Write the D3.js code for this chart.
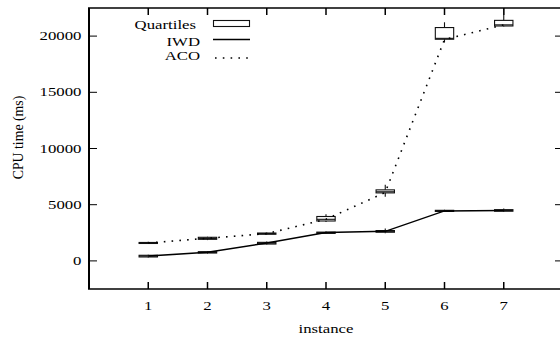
<!DOCTYPE html>
<html lang="en">
<head>
    <meta charset="UTF-8">
    <title>CPU time per instance</title>
    <script src="https://d3js.org/d3.v7.min.js"></script>
    <style>
        body { margin: 0; background: #fff; }
        .line { fill: none; stroke: #000; }
        .box { fill: none; stroke: #111; stroke-width: 1.1px; }
    </style>
</head>
<body>
    <div id="chart"></div>

    <script>
        // values
        const instances = [1, 2, 3, 4, 5, 6, 7];
        const iwdLine = [430, 760, 1590, 2520, 2630, 4450, 4480];
        const acoLine = [1600, 2010, 2430, 3700, 6090, 19700, 21000];
        // [min, q1, median, q3, max]
        const iwdBox = [[300, 350, 430, 500, 550], [650, 700, 760, 820, 880], [1450, 1500, 1580, 1650, 1720],
            [2400, 2450, 2500, 2560, 2620], [2450, 2550, 2630, 2700, 2880], [4350, 4400, 4450, 4500, 4550],
            [4350, 4420, 4480, 4560, 4660]];
        const acoBox = [[1500, 1550, 1600, 1640, 1700], [1850, 1920, 2000, 2100, 2150], [2320, 2370, 2430, 2480, 2530],
            [3450, 3550, 3700, 3950, 4150], [5700, 6050, 6150, 6320, 6770], [19430, 19720, 19800, 20760, 21230],
            [20850, 20900, 21000, 21400, 23000]];
        const yTicks = [0, 5000, 10000, 15000, 20000];

        const width = 560, height = 342;
        const SX = 1.42; // the picture is stretched sideways
        const x = d3.scaleLinear().domain([0, 8]).range([89, 563]);
        const y = d3.scaleLinear().domain([-2500, 22500]).range([289, 8]);

        const svg = d3.select("#chart").append("svg")
            .attr("width", width).attr("height", height);

        function label(px, py, s, anchor, rot, size) {
            return svg.append("text")
                .attr("transform", "translate(" + px + "," + py + ")" + (rot ? " rotate(" + rot + ")" : " scale(" + SX + ",1)"))
                .attr("text-anchor", anchor)
                .style("font-family", "'Liberation Serif'")
                .style("font-size", (size || 11.8) + "px")
                .style("fill", "#000")
                .text(s);
        }

        svg.append("clipPath").attr("id", "plot")
            .append("rect").attr("x", 89).attr("y", 8).attr("width", 474).attr("height", 281);

        // ticks, inward on all four sides
        instances.forEach(function(d) {
            svg.append("line").attr("class", "line").attr("stroke-width", 1.5)
                .attr("x1", x(d)).attr("x2", x(d)).attr("y1", 289).attr("y2", 282);
            svg.append("line").attr("class", "line").attr("stroke-width", 1.5)
                .attr("x1", x(d)).attr("x2", x(d)).attr("y1", 8).attr("y2", 15);
            label(x(d), 310, d, "middle");
        });
        yTicks.forEach(function(d) {
            svg.append("line").attr("class", "line").attr("stroke-width", 1)
                .attr("x1", 89).attr("x2", 97).attr("y1", y(d)).attr("y2", y(d));
            svg.append("line").attr("class", "line").attr("stroke-width", 1)
                .attr("x1", 555).attr("x2", 563).attr("y1", y(d)).attr("y2", y(d));
            label(81.5, y(d) + 4, d, "end");
        });

        const plot = svg.append("g").attr("clip-path", "url(#plot)");

        // quartile boxes
        function boxes(data) {
            const hw = 0.155;
            data.forEach(function(b, i) {
                const cx = x(instances[i]);
                const g = plot.append("g");
                g.append("line").attr("class", "box").attr("x1", cx).attr("x2", cx).attr("y1", y(b[0])).attr("y2", y(b[1]));
                g.append("line").attr("class", "box").attr("x1", cx).attr("x2", cx).attr("y1", y(b[3])).attr("y2", y(b[4]));
                g.append("rect").attr("class", "box")
                    .attr("x", x(instances[i] - hw)).attr("width", x(instances[i] + hw) - x(instances[i] - hw))
                    .attr("y", y(b[3])).attr("height", Math.max(1, y(b[1]) - y(b[3])));
                g.append("line").attr("class", "box")
                    .attr("x1", x(instances[i] - hw)).attr("x2", x(instances[i] + hw)).attr("y1", y(b[2])).attr("y2", y(b[2]));
            });
        }
        boxes(iwdBox);
        boxes(acoBox);

        const line = d3.line().x(function(d, i) { return x(instances[i]); }).y(function(d) { return y(d); });
        plot.append("path").datum(iwdLine).attr("class", "line").attr("stroke-width", 1.5).attr("d", line);
        plot.append("path").datum(acoLine).attr("class", "line").attr("stroke-width", 1.6)
            .attr("stroke-dasharray", "1.6,6.2").attr("d", line);

        // border
        svg.append("line").attr("class", "line").attr("stroke-width", 2).attr("x1", 89).attr("x2", 89).attr("y1", 8).attr("y2", 289);
        svg.append("line").attr("class", "line").attr("stroke-width", 2).attr("x1", 563).attr("x2", 563).attr("y1", 8).attr("y2", 289);
        svg.append("line").attr("class", "line").attr("stroke-width", 1.4).attr("x1", 88).attr("x2", 564).attr("y1", 8).attr("y2", 8);
        svg.append("line").attr("class", "line").attr("stroke-width", 1.4).attr("x1", 88).attr("x2", 564).attr("y1", 289).attr("y2", 289);

        // key
        label(196, 28.5, "Quartiles", "end");
        svg.append("rect").attr("class", "box").attr("x", 213.5).attr("y", 20.5).attr("width", 36).attr("height", 6);
        label(200, 45.5, "IWD", "end");
        svg.append("line").attr("class", "line").attr("stroke-width", 1.4).attr("x1", 213).attr("x2", 250).attr("y1", 39.5).attr("y2", 39.5);
        label(200, 60, "ACO", "end");
        svg.append("line").attr("class", "line").attr("stroke-width", 1.6).attr("stroke-dasharray", "1.6,6.2")
            .attr("x1", 215).attr("x2", 250).attr("y1", 58).attr("y2", 58);

        // axis titles
        label(326, 333, "instance", "middle");
        label(23, 137.5, "CPU time (ms)", "middle", -90, 13.8);
    </script>
</body>
</html>
